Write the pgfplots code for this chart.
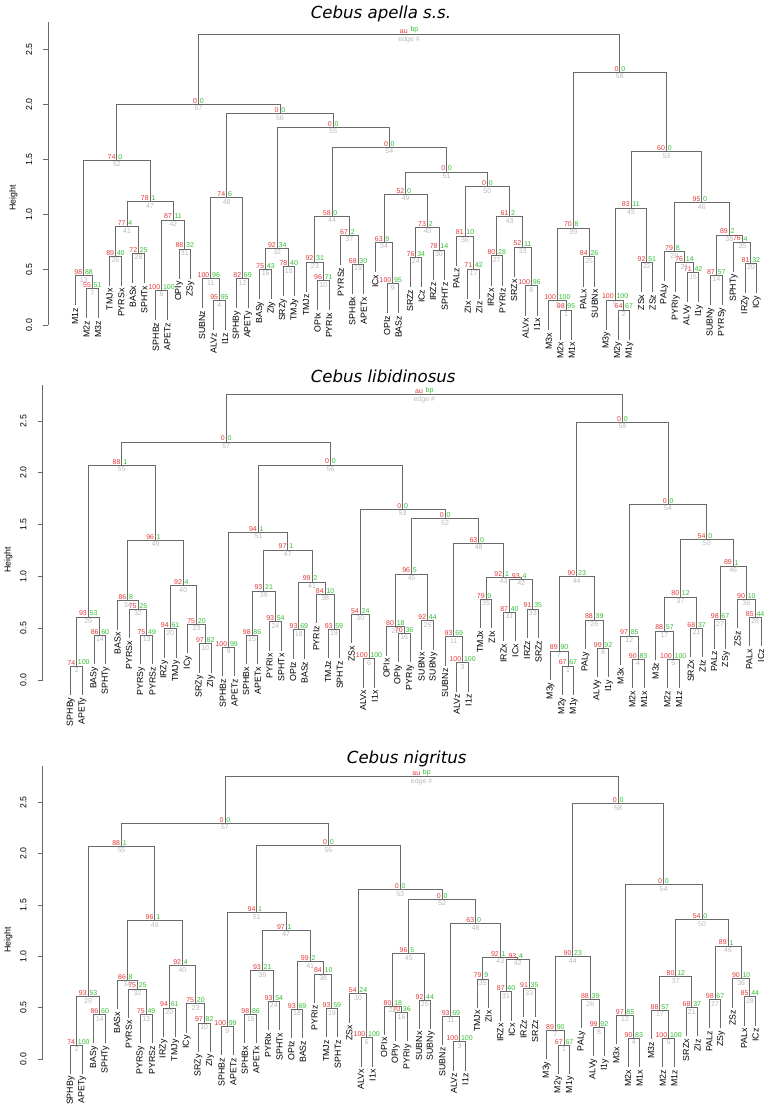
\documentclass[border=0pt]{standalone}
\usepackage{fontspec}
\setmainfont{Liberation Sans}
\newfontfamily\titlefont{DejaVu Sans}
\usepackage{pgfplots}
\usepackage{pgfplotstable}
\pgfplotsset{compat=1.18}
\definecolor{aured}{RGB}{228,56,56}
\definecolor{bpgreen}{RGB}{50,190,50}
\definecolor{edgegray}{RGB}{185,185,185}
\definecolor{linegray}{RGB}{105,105,105}

\pgfplotstableread{
xl yl xr yr h au bp e
43 -0.128 44 -0.128 0.136 98 95 1
48 -0.128 49 -0.128 0.136 64 67 2
42 -0.043 43.5 0.136 0.221 100 100 3
13 -0.043 14 -0.043 0.221 95 95 4
47 -0.037 48.5 0.136 0.227 100 100 5
8 0.050 9 0.050 0.314 100 100 6
2 0.065 3 0.065 0.329 55 51 7
40 0.090 41 0.090 0.354 100 96 8
28 0.111 29 0.111 0.375 100 95 9
22 0.138 23 0.138 0.402 96 71 10
12 0.156 13.5 0.221 0.420 100 96 11
15 0.156 16 0.156 0.420 82 69 12
1 0.183 2.5 0.329 0.447 98 88 13
56 0.186 57 0.186 0.450 87 57 14
54 0.210 55 0.210 0.474 71 42 15
17 0.241 18 0.241 0.505 75 43 16
35 0.244 36 0.244 0.508 71 42 17
19 0.265 20 0.265 0.529 78 40 18
25 0.286 26 0.286 0.550 68 30 19
59 0.295 60 0.295 0.559 81 32 20
53 0.299 54.5 0.474 0.563 76 14 21
50 0.304 51 0.304 0.568 92 51 22
21 0.307 22.5 0.402 0.571 92 31 23
30 0.349 31 0.349 0.613 76 34 24
45 0.353 46 0.353 0.617 84 26 25
4 0.359 5 0.359 0.623 89 40 26
37 0.362 38 0.362 0.626 80 28 27
6 0.386 7 0.386 0.650 72 25 28
52 0.401 53.75 0.563 0.665 79 8 29
32 0.416 33 0.416 0.680 78 14 30
10 0.425 11 0.425 0.689 88 32 31
17.5 0.505 19.5 0.529 0.695 92 34 32
39 0.443 40.5 0.354 0.707 52 11 33
27 0.485 28.5 0.375 0.749 63 9 34
58 0.488 59.5 0.559 0.752 76 4 35
34 0.543 35.5 0.508 0.807 81 10 36
24 0.549 25.5 0.550 0.813 67 2 37
56.5 0.450 58.75 0.752 0.816 89 2 38
42.75 0.221 45.5 0.617 0.879 70 8 39
30.5 0.613 32.5 0.680 0.885 73 2 40
4.5 0.623 6.5 0.650 0.891 77 4 41
8.5 0.314 10.5 0.689 0.952 87 11 42
37.5 0.626 39.75 0.707 0.984 61 2 43
21.75 0.571 24.75 0.813 0.987 58 0 44
47.75 0.227 50.5 0.568 1.061 83 11 45
52.875 0.665 57.625 0.816 1.109 95 0 46
5.5 0.891 9.5 0.952 1.118 78 1 47
12.75 0.420 15.5 0.420 1.154 74 6 48
27.75 0.749 31.5 0.885 1.185 52 0 49
34.75 0.807 38.625 0.984 1.254 0 0 50
29.625 1.185 36.6875 1.254 1.387 0 0 51
1.75 0.447 7.5 1.118 1.493 74 0 52
49.125 1.061 55.25 1.109 1.571 60 0 53
23.25 0.987 33.15625 1.387 1.611 0 0 54
18.5 0.695 28.203125 1.611 1.792 0 0 55
14.125 1.154 23.3515625 1.792 1.916 0 0 56
4.625 1.493 18.73828125 1.916 2.000 0 0 57
44.125 0.879 52.1875 1.571 2.291 0 0 58
}\treeA

\pgfplotstableread{
x y name
1 0.183 M1z
2 0.065 M2z
3 0.065 M3z
4 0.359 TMJx
5 0.359 PYRSx
6 0.386 BASx
7 0.386 SPHTx
8 0.050 SPHBz
9 0.050 APETz
10 0.425 OPIy
11 0.425 ZSy
12 0.156 SUBNz
13 -0.043 ALVz
14 -0.043 I1z
15 0.156 SPHBy
16 0.156 APETy
17 0.241 BASy
18 0.241 ZIy
19 0.265 SRZy
20 0.265 TMJy
21 0.307 TMJz
22 0.138 OPIx
23 0.138 PYRIx
24 0.549 PYRSz
25 0.286 SPHBx
26 0.286 APETx
27 0.485 ICx
28 0.111 OPIz
29 0.111 BASz
30 0.349 SRZz
31 0.349 ICz
32 0.416 IRZz
33 0.416 SPHTz
34 0.543 PALz
35 0.244 ZIx
36 0.244 ZIz
37 0.362 IRZx
38 0.362 PYRIz
39 0.443 SRZx
40 0.090 ALVx
41 0.090 I1x
42 -0.043 M3x
43 -0.128 M2x
44 -0.128 M1x
45 0.353 PALx
46 0.353 SUBNx
47 -0.037 M3y
48 -0.128 M2y
49 -0.128 M1y
50 0.304 ZSx
51 0.304 ZSz
52 0.401 PALy
53 0.299 PYRIy
54 0.210 ALVy
55 0.210 I1y
56 0.186 SUBNy
57 0.186 PYRSy
58 0.488 SPHTy
59 0.295 IRZy
60 0.295 ICy
}\leafA

\pgfplotstableread{
xl yl xr yr h au bp e
43 -0.140 44 -0.140 0.135 67 67 1
1 -0.140 2 -0.140 0.135 74 100 2
34 -0.108 35 -0.108 0.167 100 100 3
49 -0.075 50 -0.075 0.200 90 83 4
52 -0.075 53 -0.075 0.200 100 100 5
26 -0.069 27 -0.069 0.206 100 100 6
42 0.005 43.5 0.135 0.280 89 90 7
46 0.031 47 0.031 0.306 99 92 8
14 0.040 15 0.040 0.315 100 99 9
12 0.076 13 0.076 0.351 97 82 10
33 0.143 34.5 0.167 0.418 93 69 11
48 0.150 49.5 0.200 0.425 97 85 12
7 0.156 8 0.156 0.431 75 49 13
3 0.157 4 0.157 0.432 86 60 14
16 0.158 17 0.158 0.433 98 86 15
29 0.175 30 0.175 0.450 70 36 16
51 0.198 52.5 0.200 0.473 88 57 17
20 0.208 21 0.208 0.483 93 69 18
23 0.214 24 0.214 0.489 93 59 19
9 0.221 10 0.221 0.496 94 61 20
54 0.224 55 0.224 0.499 68 37 21
28 0.240 29.5 0.450 0.515 80 18 22
11 0.262 12.5 0.351 0.537 75 20 23
18 0.288 19 0.288 0.563 93 54 24
31 0.298 32 0.298 0.573 92 44 25
45 0.304 46.5 0.306 0.579 88 39 26
56 0.305 57 0.305 0.580 98 67 27
59 0.330 60 0.330 0.605 85 44 28
1.5 0.135 3.5 0.432 0.608 93 53 29
25 0.359 26.5 0.206 0.634 54 24 30
38 0.378 39 0.378 0.653 87 40 31
6 0.407 7.5 0.431 0.682 75 25 32
40 0.410 41 0.410 0.685 91 35 33
5 0.491 6.75 0.682 0.766 86 8 34
36 0.504 37 0.504 0.779 79 9 35
58 0.505 59.5 0.605 0.780 90 10 36
51.75 0.473 54.5 0.499 0.801 80 12 37
22 0.552 23.5 0.489 0.827 84 10 38
16.5 0.433 18.5 0.563 0.859 93 21 39
9.5 0.496 11.75 0.537 0.911 92 4 40
20.5 0.483 22.75 0.827 0.946 99 2 41
38.5 0.653 40.5 0.685 0.972 93 4 42
36.5 0.779 39.5 0.972 0.991 92 1 43
42.75 0.280 45.75 0.579 0.997 90 23 44
28.75 0.515 31.5 0.573 1.023 96 5 45
56.5 0.580 58.75 0.780 1.100 89 1 46
17.5 0.859 21.625 0.946 1.255 97 1 47
33.75 0.418 38 0.991 1.319 63 0 48
5.875 0.766 10.625 0.911 1.348 96 1 49
53.125 0.801 57.625 1.100 1.358 54 0 50
14.5 0.315 19.5625 1.255 1.425 94 1 51
30.125 1.023 35.875 1.319 1.557 0 0 52
25.75 0.634 33 1.557 1.647 0 0 53
48.75 0.425 55.375 1.358 1.696 0 0 54
2.5 0.608 8.25 1.348 2.072 88 1 55
17.03125 1.425 29.375 1.647 2.075 0 0 56
5.375 2.072 23.203125 2.075 2.297 0 0 57
44.25 0.997 52.0625 1.696 2.487 0 0 58
}\treeB

\pgfplotstableread{
x y name
1 -0.140 SPHBy
2 -0.140 APETy
3 0.157 BASy
4 0.157 SPHTy
5 0.491 BASx
6 0.407 PYRSx
7 0.156 PYRSy
8 0.156 PYRSz
9 0.221 IRZy
10 0.221 TMJy
11 0.262 ICy
12 0.076 SRZy
13 0.076 ZIy
14 0.040 SPHBz
15 0.040 APETz
16 0.158 SPHBx
17 0.158 APETx
18 0.288 PYRIx
19 0.288 SPHTx
20 0.208 OPIz
21 0.208 BASz
22 0.552 PYRIz
23 0.214 TMJz
24 0.214 SPHTz
25 0.359 ZSx
26 -0.069 ALVx
27 -0.069 I1x
28 0.240 OPIx
29 0.175 OPIy
30 0.175 PYRIy
31 0.298 SUBNx
32 0.298 SUBNy
33 0.143 SUBNz
34 -0.108 ALVz
35 -0.108 I1z
36 0.504 TMJx
37 0.504 ZIx
38 0.378 IRZx
39 0.378 ICx
40 0.410 IRZz
41 0.410 SRZz
42 0.005 M3y
43 -0.140 M2y
44 -0.140 M1y
45 0.304 PALy
46 0.031 ALVy
47 0.031 I1y
48 0.150 M3x
49 -0.075 M2x
50 -0.075 M1x
51 0.198 M3z
52 -0.075 M2z
53 -0.075 M1z
54 0.224 SRZx
55 0.224 ZIz
56 0.305 PALz
57 0.305 ZSy
58 0.505 ZSz
59 0.330 PALx
60 0.330 ICz
}\leafB

\pgfplotsset{
  dendro/.style={
    scale only axis, clip=false,
    hide x axis,
    axis y line*=left,
    y axis line style={draw=none},
    ymin=0, xmax=60,
    ytick={0,0.5,1,1.5,2,2.5},
    yticklabels={\mbox{0.0},\mbox{0.5},\mbox{1.0},\mbox{1.5},\mbox{2.0},\mbox{2.5}},
    tick align=outside, major tick length=5pt,
    ytick style={draw=linegray, line width=0.8pt},
    yticklabel style={font=\fontsize{8.8}{10}\selectfont, rotate=90, anchor=south, inner sep=0pt, inner ysep=11pt},
    ylabel={Height},
    ylabel style={font=\fontsize{8.8}{10}\selectfont, anchor=center},
  },
  treeline/.style={linegray, line width=0.9pt, line cap=rect, no markers},
  yaxisline/.style={linegray, line width=0.8pt, no markers},
  lab/.style={draw=none, mark=none, nodes near coords, point meta=explicit symbolic},
  aulab/.style={every node near coord/.append style={text=aured, font=\fontsize{7}{8}\selectfont, anchor=south east, inner xsep=1.2pt, inner ysep=0.8pt}},
  bplab/.style={every node near coord/.append style={text=bpgreen, font=\fontsize{7}{8}\selectfont, anchor=south west, inner xsep=1.2pt, inner ysep=0.8pt}},
  edgelab/.style={every node near coord/.append style={text=edgegray, font=\fontsize{7}{8}\selectfont, anchor=north, inner xsep=0pt, inner ysep=1.5pt}},
  leaflab/.style={every node near coord/.append style={text=black, font=\fontsize{8.8}{10}\selectfont, rotate=90, anchor=east, inner sep=0pt, inner xsep=3pt}},
}

\begin{document}
\begin{tikzpicture}
\useasboundingbox (0,0) rectangle (770pt,1110pt);

% ---------------- Panel 1 ----------------
\begin{axis}[dendro, at={(48.3pt,785pt)}, anchor=south west,
  width=708.4pt, height=303.3pt, xmin=-1.312, ymax=2.75,
  ylabel style={at={(rel axis cs:-0.0494,0.418)}}]
\addplot[yaxisline] coordinates {(-1.312,0) (-1.312,2.75)};
\addplot[treeline, quiver={u=\thisrow{xr}-\thisrow{xl}, v=0}] table[x=xl,y=h]{\treeA};
\addplot[treeline, quiver={u=0, v=\thisrow{h}-\thisrow{yl}}] table[x=xl,y=yl]{\treeA};
\addplot[treeline, quiver={u=0, v=\thisrow{h}-\thisrow{yr}}] table[x=xr,y=yr]{\treeA};
\addplot[treeline] coordinates {(11.681640625,2.000) (11.681640625,2.635) (48.15625,2.635) (48.15625,2.291)};
\addplot[lab, aulab] table[x expr=(\thisrow{xl}+\thisrow{xr})/2, y=h, meta=au]{\treeA};
\addplot[lab, bplab] table[x expr=(\thisrow{xl}+\thisrow{xr})/2, y=h, meta=bp]{\treeA};
\addplot[lab, edgelab] table[x expr=(\thisrow{xl}+\thisrow{xr})/2, y=h, meta=e]{\treeA};
\addplot[lab, leaflab] table[x=x, y=y, meta=name]{\leafA};
\addplot[draw=none, mark=none, nodes near coords={au}, aulab] coordinates {(29.9189453125,2.635)};
\addplot[draw=none, mark=none, nodes near coords={bp}, bplab] coordinates {(29.9189453125,2.635)};
\addplot[draw=none, mark=none, nodes near coords={edge \#}, edgelab] coordinates {(29.9189453125,2.635)};
\node[font={\titlefont\itshape\fontsize{16.6}{18}\selectfont}, anchor=base] at (axis cs:27.48,2.781) {Cebus apella s.s.};
\end{axis}

% ---------------- Panel 2 ----------------
\begin{axis}[dendro, at={(42.7pt,430pt)}, anchor=south west,
  width=718.3pt, height=295.3pt, xmin=-1.393, ymax=2.85,
  ylabel style={at={(rel axis cs:-0.0479,0.406)}}]
\addplot[yaxisline] coordinates {(-1.393,0) (-1.393,2.85)};
\addplot[treeline, quiver={u=\thisrow{xr}-\thisrow{xl}, v=0}] table[x=xl,y=h]{\treeB};
\addplot[treeline, quiver={u=0, v=\thisrow{h}-\thisrow{yl}}] table[x=xl,y=yl]{\treeB};
\addplot[treeline, quiver={u=0, v=\thisrow{h}-\thisrow{yr}}] table[x=xr,y=yr]{\treeB};
\addplot[treeline] coordinates {(14.2890625,2.297) (14.2890625,2.751) (48.15625,2.751) (48.15625,2.487)};
\addplot[lab, aulab] table[x expr=(\thisrow{xl}+\thisrow{xr})/2, y=h, meta=au]{\treeB};
\addplot[lab, bplab] table[x expr=(\thisrow{xl}+\thisrow{xr})/2, y=h, meta=bp]{\treeB};
\addplot[lab, edgelab] table[x expr=(\thisrow{xl}+\thisrow{xr})/2, y=h, meta=e]{\treeB};
\addplot[lab, leaflab] table[x=x, y=y, meta=name]{\leafB};
\addplot[draw=none, mark=none, nodes near coords={au}, aulab] coordinates {(31.22265625,2.751)};
\addplot[draw=none, mark=none, nodes near coords={bp}, bplab] coordinates {(31.22265625,2.751)};
\addplot[draw=none, mark=none, nodes near coords={edge \#}, edgelab] coordinates {(31.22265625,2.751)};
\node[font={\titlefont\itshape\fontsize{16.6}{18}\selectfont}, anchor=base] at (axis cs:27.71,2.874) {Cebus libidinosus};
\end{axis}

% ---------------- Panel 3 ----------------
\begin{axis}[dendro, at={(42.7pt,51pt)}, anchor=south west,
  width=713pt, height=292.7pt, xmin=-1.412, ymax=2.85,
  ylabel style={at={(rel axis cs:-0.0482,0.407)}}]
\addplot[yaxisline] coordinates {(-1.412,0) (-1.412,2.85)};
\addplot[treeline, quiver={u=\thisrow{xr}-\thisrow{xl}, v=0}] table[x=xl,y=h]{\treeB};
\addplot[treeline, quiver={u=0, v=\thisrow{h}-\thisrow{yl}}] table[x=xl,y=yl]{\treeB};
\addplot[treeline, quiver={u=0, v=\thisrow{h}-\thisrow{yr}}] table[x=xr,y=yr]{\treeB};
\addplot[treeline] coordinates {(14.2890625,2.297) (14.2890625,2.751) (48.15625,2.751) (48.15625,2.487)};
\addplot[lab, aulab] table[x expr=(\thisrow{xl}+\thisrow{xr})/2, y=h, meta=au]{\treeB};
\addplot[lab, bplab] table[x expr=(\thisrow{xl}+\thisrow{xr})/2, y=h, meta=bp]{\treeB};
\addplot[lab, edgelab] table[x expr=(\thisrow{xl}+\thisrow{xr})/2, y=h, meta=e]{\treeB};
\addplot[lab, leaflab] table[x=x, y=y, meta=name]{\leafB};
\addplot[draw=none, mark=none, nodes near coords={au}, aulab] coordinates {(31.22265625,2.751)};
\addplot[draw=none, mark=none, nodes near coords={bp}, bplab] coordinates {(31.22265625,2.751)};
\addplot[draw=none, mark=none, nodes near coords={edge \#}, edgelab] coordinates {(31.22265625,2.751)};
\node[font={\titlefont\itshape\fontsize{16.6}{18}\selectfont}, anchor=base] at (axis cs:29.94,2.879) {Cebus nigritus};
\end{axis}
\end{tikzpicture}
\end{document}
